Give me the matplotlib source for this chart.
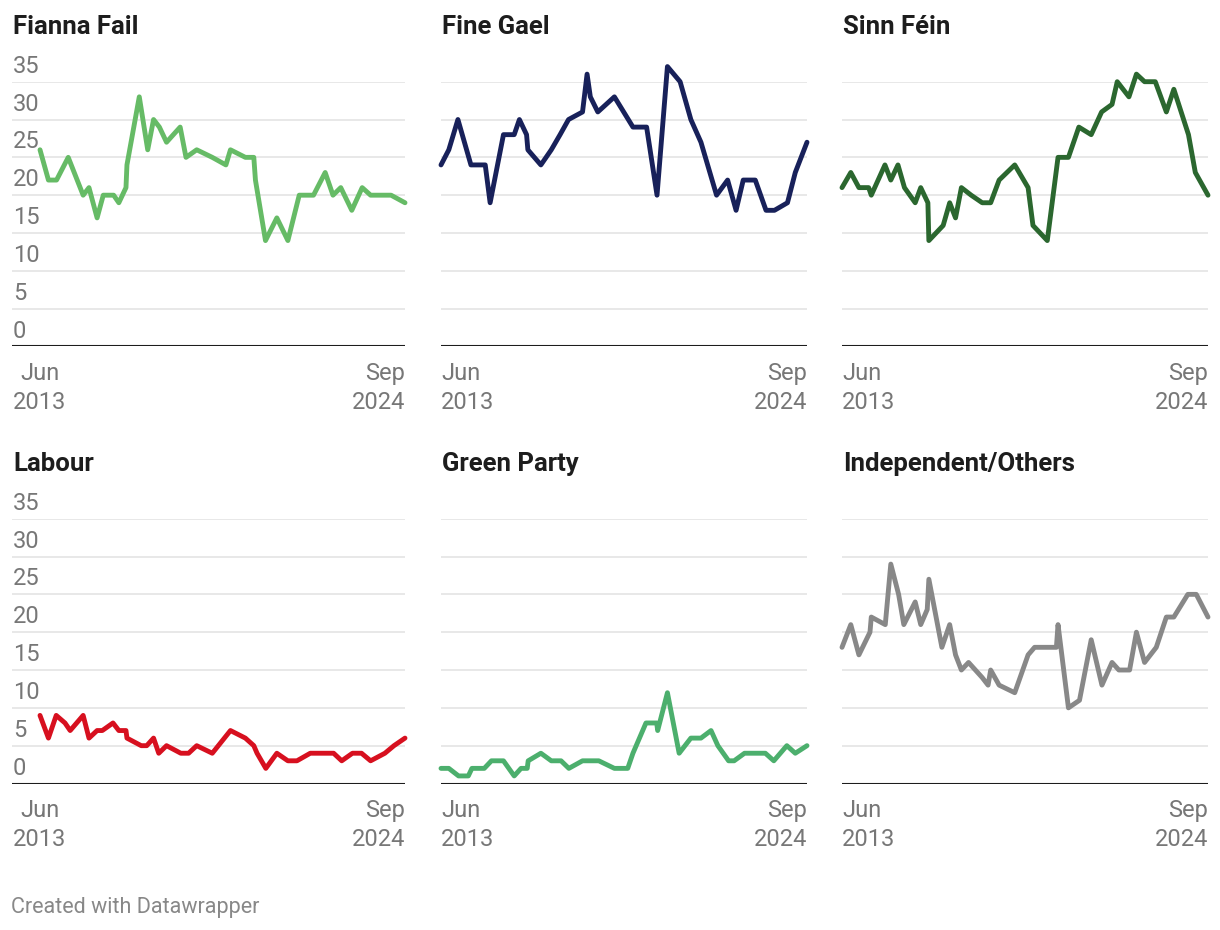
import matplotlib
matplotlib.use('Agg')
import matplotlib.pyplot as plt

plt.rcParams['font.family'] = ['Roboto', 'DejaVu Sans']

# poll dates as decimal years, one list per party
ff_dates = [2013.45, 2013.71, 2013.96, 2014.32, 2014.78, 2014.96, 2015.21, 2015.40, 2015.72, 2015.88,
            2016.10, 2016.13, 2016.51, 2016.77, 2016.95, 2017.13, 2017.35, 2017.77, 2017.95, 2018.28,
            2018.76, 2019.18, 2019.32, 2019.78, 2020.04, 2020.09, 2020.40, 2020.75, 2021.09, 2021.44,
            2021.88, 2022.24, 2022.48, 2022.72, 2023.06, 2023.38, 2023.64, 2024.27, 2024.70]
ff_values = [26, 22, 22, 25, 20, 21, 17, 20, 20, 19,
             21, 24, 33, 26, 30, 29, 27, 29, 25, 26,
             25, 24, 26, 25, 25, 22, 14, 17, 14, 20,
             20, 23, 20, 21, 18, 21, 20, 20, 19]

fg_dates = [2013.45, 2013.69, 2013.97, 2014.37, 2014.81, 2014.96, 2015.37, 2015.70, 2015.86, 2016.08,
            2016.12, 2016.52, 2016.84, 2017.11, 2017.37, 2017.80, 2017.94, 2018.04, 2018.27, 2018.78,
            2019.35, 2019.77, 2020.09, 2020.41, 2020.80, 2021.13, 2021.44, 2021.92, 2022.26, 2022.52,
            2022.74, 2023.11, 2023.44, 2023.70, 2024.10, 2024.34, 2024.70]
fg_values = [24, 26, 30, 24, 24, 19, 28, 28, 30, 28,
             26, 24, 26, 28, 30, 31, 36, 33, 31, 33,
             29, 29, 20, 37, 35, 30, 27, 20, 22, 18,
             22, 22, 18, 18, 19, 23, 27]

sf_dates = [2013.45, 2013.72, 2013.97, 2014.27, 2014.35, 2014.77, 2014.95, 2015.17, 2015.37, 2015.70,
            2015.87, 2016.09, 2016.12, 2016.56, 2016.76, 2016.94, 2017.12, 2017.42, 2017.76, 2018.02,
            2018.28, 2018.76, 2019.17, 2019.32, 2019.76, 2020.09, 2020.41, 2020.73, 2021.11, 2021.43,
            2021.75, 2021.91, 2022.27, 2022.50, 2022.75, 2023.08, 2023.42, 2023.65, 2024.10, 2024.31,
            2024.70]
sf_values = [21, 23, 21, 21, 20, 24, 22, 24, 21, 19,
             21, 19, 14, 16, 19, 17, 21, 20, 19, 19,
             22, 24, 21, 16, 14, 25, 25, 29, 28, 31,
             32, 35, 33, 36, 35, 35, 31, 34, 28, 23,
             20]

lab_dates = [2013.45, 2013.71, 2013.95, 2014.22, 2014.38, 2014.78, 2014.96, 2015.21, 2015.37, 2015.70,
             2015.88, 2016.10, 2016.13, 2016.57, 2016.74, 2016.95, 2017.11, 2017.35, 2017.79, 2018.03,
             2018.28, 2018.76, 2019.32, 2019.78, 2020.04, 2020.14, 2020.41, 2020.75, 2021.09, 2021.37,
             2021.78, 2022.50, 2022.75, 2023.08, 2023.36, 2023.64, 2024.08, 2024.36, 2024.70]
lab_values = [9, 6, 9, 8, 7, 9, 6, 7, 7, 8,
              7, 7, 6, 5, 5, 6, 4, 5, 4, 4,
              5, 4, 7, 6, 5, 4, 2, 4, 3, 3,
              4, 4, 3, 4, 4, 3, 4, 5, 6]

gp_dates = [2013.45, 2013.69, 2013.99, 2014.29, 2014.40, 2014.78, 2015.00, 2015.37, 2015.70, 2015.91,
            2016.10, 2016.13, 2016.52, 2016.84, 2017.14, 2017.38, 2017.80, 2018.30, 2018.78, 2019.19,
            2019.35, 2019.75, 2020.08, 2020.11, 2020.41, 2020.77, 2021.13, 2021.44, 2021.75, 2021.96,
            2022.29, 2022.46, 2022.78, 2023.42, 2023.68, 2024.08, 2024.34, 2024.70]
gp_values = [2, 2, 1, 1, 2, 2, 3, 3, 1, 2,
             2, 3, 4, 3, 3, 2, 3, 3, 2, 2,
             4, 8, 8, 7, 12, 4, 6, 6, 7, 5,
             3, 3, 4, 4, 3, 5, 4, 5]

ind_dates = [2013.45, 2013.72, 2013.97, 2014.31, 2014.35, 2014.78, 2014.95, 2015.19, 2015.35, 2015.70,
             2015.87, 2016.07, 2016.12, 2016.52, 2016.76, 2016.94, 2017.12, 2017.34, 2017.76, 2017.94,
             2018.02, 2018.28, 2018.76, 2019.17, 2019.37, 2020.04, 2020.09, 2020.41, 2020.75, 2021.11,
             2021.44, 2021.75, 2021.96, 2022.29, 2022.50, 2022.75, 2023.11, 2023.42, 2023.65, 2024.08,
             2024.34, 2024.70]
ind_values = [18, 21, 17, 20, 22, 21, 29, 25, 21, 24,
              21, 23, 27, 18, 21, 17, 15, 16, 14, 13,
              15, 13, 12, 17, 18, 18, 21, 10, 11, 19,
              13, 16, 15, 15, 20, 16, 18, 22, 22, 25,
              25, 22]

party_names = ['Fianna Fail', 'Fine Gael', 'Sinn Féin', 'Labour', 'Green Party', 'Independent/Others']
party_colors = ['#66bb66', '#18215a', '#2b672f', '#d7101f', '#4caf6d', '#888888']
y_ticks = [0, 5, 10, 15, 20, 25, 30, 35]
first_label = ('Jun', '2013')
last_label = ('Sep', '2024')

W, H = 1220, 930
TEXT_GREY = '#777777'
LABEL_SIZE = 17


def px(x, y, w, h):
    # pixel box (top-left origin) -> figure fraction rect
    return [x / W, 1 - (y + h) / H, w / W, h / H]


def draw_panel(fig, rect, name, color, dates, values, first_col):
    ax = fig.add_axes(rect)
    ax.set_ylim(0, 35)
    x0, x1 = dates[0], dates[-1]
    if first_col:
        # leave room on the left for the y labels (28 px of 393)
        span = (x1 - x0) / (365 / 393)
        ax.set_xlim(x1 - span, x1)
    else:
        ax.set_xlim(x0, x1)

    for t in y_ticks[1:]:
        ax.axhline(t, color='#e2e2e2', lw=1.1, zorder=1)
    ax.axhline(0, color='#1d1d1d', lw=1.5, zorder=3)

    ax.plot(dates, values, color=color, lw=3.5, solid_joinstyle='round',
            solid_capstyle='round', clip_on=False, zorder=4)

    for s in ax.spines.values():
        s.set_visible(False)
    ax.set_xticks([])
    ax.set_yticks([])

    if first_col:
        for t in y_ticks:
            ax.annotate(str(t), xy=(0, t), xycoords=('axes fraction', 'data'),
                        xytext=(1, 9), textcoords='offset pixels',
                        ha='left', va='baseline', fontsize=LABEL_SIZE, color=TEXT_GREY)

    ha_first = 'center' if first_col else 'left'
    for i, lab in enumerate(first_label):
        ax.annotate(lab, xy=(x0, 0), xycoords='data',
                    xytext=(0, -27 - 29 * i), textcoords='offset pixels',
                    ha=ha_first, va='center', fontsize=LABEL_SIZE, color=TEXT_GREY)
    for i, lab in enumerate(last_label):
        ax.annotate(lab, xy=(x1, 0), xycoords='data',
                    xytext=(0, -27 - 29 * i), textcoords='offset pixels',
                    ha='right', va='center', fontsize=LABEL_SIZE, color=TEXT_GREY)

    ax.annotate(name, xy=(0, 35), xycoords=('axes fraction', 'data'),
                xytext=(1, 48), textcoords='offset pixels',
                ha='left', va='baseline', fontsize=18.5, fontweight='bold', color='#1d1d1d')
    return ax


def main():
    fig = plt.figure(figsize=(W / 100, H / 100), dpi=100)
    fig.patch.set_facecolor('white')

    series = [(ff_dates, ff_values), (fg_dates, fg_values), (sf_dates, sf_values),
              (lab_dates, lab_values), (gp_dates, gp_values), (ind_dates, ind_values)]
    col_boxes = [(12, 393), (441, 366), (842, 366)]
    row_tops = [81.7, 518.7]
    plot_h = 264.8

    for i, (name, color, (d, v)) in enumerate(zip(party_names, party_colors, series)):
        r, c = divmod(i, 3)
        left, width = col_boxes[c]
        draw_panel(fig, px(left, row_tops[r], width, plot_h), name, color, d, v, c == 0)

    fig.text(11 / W, 17 / H, 'Created with Datawrapper', ha='left', va='baseline',
             fontsize=15.5, color='#888888')

    fig.savefig('out.png', dpi=100)


if __name__ == '__main__':
    main()
